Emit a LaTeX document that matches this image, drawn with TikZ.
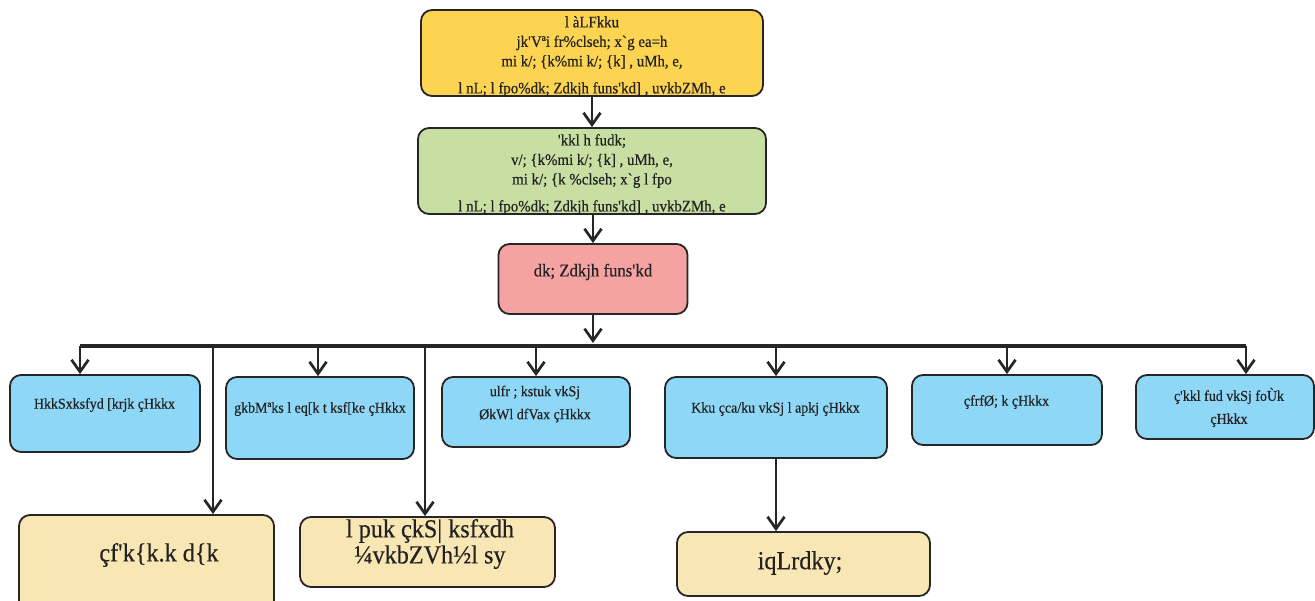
\documentclass[tikz,border=0pt]{standalone}
\usepackage{fontspec}
\setmainfont{Liberation Serif}[FakeStretch=0.93, FakeBold=0.4]
\usetikzlibrary{arrows.meta}
\definecolor{cyellow}{HTML}{FDD452}
\definecolor{cgreen}{HTML}{C8DFA4}
\definecolor{cred}{HTML}{F5A2A3}
\definecolor{cblue}{HTML}{8FD7F7}
\definecolor{cbeige}{HTML}{F9E6B5}
\definecolor{boxline}{HTML}{262626}
\definecolor{txt}{HTML}{222222}
\definecolor{lineclr}{HTML}{262626}
\tikzset{
  box/.style={draw=boxline, line width=1.8pt, rounded corners=11pt, inner sep=0pt},
  lbl/.style={text=txt, align=center, inner sep=0pt},
  arr/.style={draw=lineclr, line width=2.7pt, -{Straight Barb[length=12pt,width=17pt]}},
  bus/.style={draw=lineclr, line width=3.5pt},
  ftop/.style={font=\fontsize{16}{19.5}\selectfont},
  fmid/.style={font=\fontsize{15}{23}\selectfont},
  fbig/.style={font=\fontsize{26}{26}\selectfont},
}
\begin{document}
\begin{tikzpicture}[x=1pt,y=-1pt]
\useasboundingbox (0,0) rectangle (1315,600);
% top boxes
\node[box, fill=cyellow, minimum width=342, minimum height=86] (top) at (592,53) {};
\node[lbl, ftop] (topt) at (592,56.5)
 {l àLFkku\\jk\textquotesingle Vªi fr\%clseh; x\textasciigrave g ea=h\\mi k/; \{k\%mi k/; \{k] , uMh, e,\\[7.5pt]l nL; l fpo\%dk; Zdkjh funs\textquotesingle kd] , uvkbZMh, e};
\node[box, fill=cgreen, minimum width=348, minimum height=86] (gov) at (592,171) {};
\node[lbl, ftop] (govt) at (592,174.5)
 {\textquotesingle kkl h fudk;\\v/; \{k\%mi k/; \{k] , uMh, e,\\mi k/; \{k \%clseh; x\textasciigrave g l fpo\\[7.5pt]l nL; l fpo\%dk; Zdkjh funs\textquotesingle kd] , uvkbZMh, e};
\node[box, fill=cred, minimum width=189, minimum height=70] (ed) at (593,279) {};
\node[lbl, font=\fontsize{18}{20}\selectfont] (edt) at (593,272) {dk; Zdkjh funs\textquotesingle kd};
% blue boxes
\node[box, fill=cblue, minimum width=190, minimum height=77] (b1) at (105,413.5) {};
\node[lbl, fmid] (b1t) at (104.5,405) {HkkSxksfyd [krjk çHkkx};
\node[box, fill=cblue, minimum width=188, minimum height=82] (b2) at (320,418) {};
\node[lbl, fmid] (b2t) at (320,409) {gkbMªks l eq[k t ksf[ke çHkkx};
\node[box, fill=cblue, minimum width=188, minimum height=70] (b3) at (536,412) {};
\node[lbl, fmid] (b3t) at (535,404) {ulfr ; kstuk vkSj\\ØkWl dfVax çHkkx};
\node[box, fill=cblue, minimum width=222, minimum height=81] (b4) at (776,417.5) {};
\node[lbl, fmid] (b4t) at (775.5,409) {Kku çca/ku vkSj l apkj çHkkx};
\node[box, fill=cblue, minimum width=190, minimum height=70] (b5) at (1007,410) {};
\node[lbl, fmid] (b5t) at (1006.5,402) {çfrfØ; k çHkkx};
\node[box, fill=cblue, minimum width=178, minimum height=64] (b6) at (1225,407) {};
\node[lbl, fmid] (b6t) at (1229,407.5) {ç\textquotesingle kkl fud vkSj foÙk\\çHkkx};
% beige boxes
\node[box, fill=cbeige, minimum width=255, minimum height=100] (c1) at (146.5,565) {};
\node[lbl, fbig] (c1t) at (159,555) {çf\textquotesingle k\{k.k d\{k};
\node[box, fill=cbeige, minimum width=255, minimum height=70] (c2) at (427.5,552) {};
\node[lbl, fbig] (c2t) at (430,544) {l puk çkS| ksfxdh\\¼vkbZVh½l sy};
\node[box, fill=cbeige, minimum width=253, minimum height=64] (c3) at (803.5,564) {};
\node[lbl, fbig] (c3t) at (800,563) {iqLrdky;};
% connectors
\coordinate (bl) at (80,346);
\coordinate (br) at (1246,346);
\coordinate (t1) at (80,346);
\coordinate (t2) at (318,346);
\coordinate (t3) at (536,346);
\coordinate (t4) at (776,346);
\coordinate (t5) at (1007,346);
\coordinate (t6) at (1246,346);
\coordinate (u1) at (213,346);
\coordinate (u2) at (425,346);
\coordinate (rb) at (593,343);
\draw[bus] (bl) -- (br);
\draw[arr] (top.south) -- (gov.north);
\draw[arr] (gov.south -| ed.north) -- (ed.north);
\draw[arr] (ed.south) -- (rb);
\draw[arr] (t1) -- (t1 |- b1.north);
\draw[arr] (t2) -- (t2 |- b2.north);
\draw[arr] (t3) -- (t3 |- b3.north);
\draw[arr] (t4) -- (t4 |- b4.north);
\draw[arr] (t5) -- (t5 |- b5.north);
\draw[arr] (t6) -- (t6 |- b6.north);
\draw[arr] (u1) -- (u1 |- c1.north);
\draw[arr] (u2) -- (u2 |- c2.north);
\draw[arr] (b4.south) -- (b4.south |- c3.north);
\end{tikzpicture}
\end{document}
